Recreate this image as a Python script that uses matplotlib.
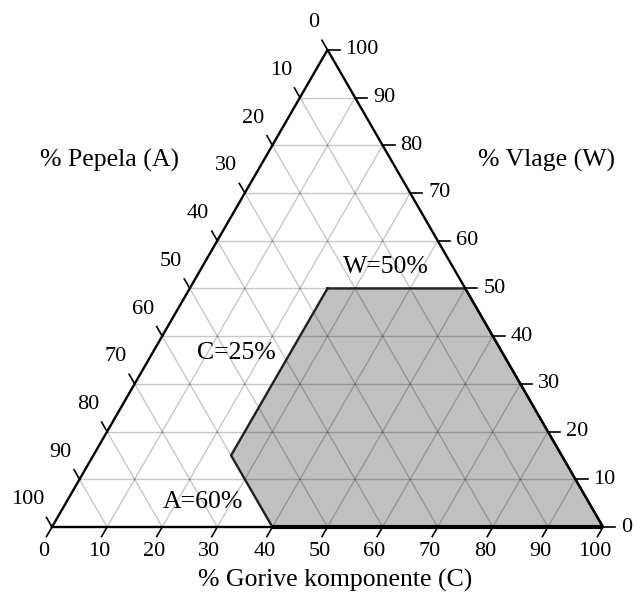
import numpy as np
import matplotlib
matplotlib.use("Agg")
import matplotlib.pyplot as plt
from matplotlib.patches import Polygon

plt.rcParams['font.family'] = ['Liberation Serif', 'DejaVu Serif']

# ternary axis values (percent)
ticks = [0, 10, 20, 30, 40, 50, 60, 70, 80, 90, 100]
grid_vals = [10, 20, 30, 40, 50, 60, 70, 80, 90]

# region limits
w_max = 50   # W <= 50 %
c_min = 25   # C >= 25 %
a_max = 60   # A <= 60 %

title_c = "% Gorive komponente (C)"
title_a = "% Pepela (A)"
title_w = "% Vlage (W)"

S3 = np.sqrt(3) / 2


def tern(c, w):
    # C along the bottom, W up the right side, A = 100 - C - W
    return (c + w / 2.0) / 100.0, w * S3 / 100.0


fig = plt.figure(figsize=(6.34, 5.94), dpi=100)
ax = fig.add_axes([0, 0, 1, 1])
# triangle side = 551 px, bottom-left corner at (52, 527) px
side = 551.0
ax.set_xlim(-52 / side, (634 - 52) / side)
ax.set_ylim(-(594 - 527) / side, 527 / side)
ax.axis('off')

# shaded region: W <= 50, C >= 25, A <= 60
region = [
    (c_min, w_max),
    (100 - w_max, w_max),
    (100, 0),
    (100 - a_max, 0),
    (c_min, 100 - a_max - c_min),
]
pts = [tern(c, w) for c, w in region]
ax.add_patch(Polygon(pts, closed=True, facecolor='#c0c0c0', edgecolor='none', zorder=1))

# grid lines
gkw = dict(color='black', alpha=0.22, lw=1.0, zorder=2)
for v in grid_vals:
    # constant W
    x, y = zip(tern(0, v), tern(100 - v, v))
    ax.plot(x, y, **gkw)
    # constant C
    x, y = zip(tern(v, 0), tern(v, 100 - v))
    ax.plot(x, y, **gkw)
    # constant A
    x, y = zip(tern(100 - v, 0), tern(0, 100 - v))
    ax.plot(x, y, **gkw)

# region outline
xs, ys = zip(*(pts + [pts[0]]))
ax.plot(xs, ys, color='#202020', lw=1.7, zorder=3)
x, y = zip(tern(100 - a_max, 0), tern(100, 0))
ax.plot(x, y, color='black', lw=3.0, zorder=4, solid_capstyle='butt')

# triangle frame
tri = [tern(0, 0), tern(100, 0), tern(0, 100), tern(0, 0)]
x, y = zip(*tri)
ax.plot(x, y, color='black', lw=1.7, zorder=4)

# ticks and tick labels
tl = 2.0
fs_tick = 16
for v in ticks:
    # bottom axis (C): ticks follow constant-C lines downwards
    x0, y0 = tern(v, 0)
    ax.plot([x0, x0 - tl / 200], [y0, y0 - tl * S3 / 100], color='black', lw=1.2, zorder=4)
    ax.text(x0 - 8 / side, y0 - 25 / side, str(v), ha='center', va='center', fontsize=fs_tick)

    # right axis (W): horizontal ticks
    x0, y0 = tern(100 - v, v)
    ax.plot([x0, x0 + 2.2 / 100], [y0, y0], color='black', lw=1.2, zorder=4)
    ax.text(x0 + 18 / side, y0, str(v), ha='left', va='center', fontsize=fs_tick)

    # left axis (A): ticks follow constant-A lines up-left
    x0, y0 = tern(0, 100 - v)
    ax.plot([x0, x0 - tl / 200], [y0, y0 + tl * S3 / 100], color='black', lw=1.2, zorder=4)
    ax.text(x0 - 8 / side, y0 + 27 / side, str(v), ha='right', va='center', fontsize=fs_tick)


def px(xp, yp):
    return (xp - 52) / side, (527 - yp) / side


fs_title = 18.5
ax.text(*px(335, 580), title_c, ha='center', va='center', fontsize=fs_title)
ax.text(*px(109, 160), title_a, ha='center', va='center', fontsize=fs_title)
ax.text(*px(547, 160), title_w, ha='center', va='center', fontsize=fs_title)

ax.text(*px(386, 267), "W=%d%%" % w_max, ha='center', va='center', fontsize=fs_title)
ax.text(*px(236, 353), "C=%d%%" % c_min, ha='center', va='center', fontsize=fs_title)
ax.text(*px(203, 502), "A=%d%%" % a_max, ha='center', va='center', fontsize=fs_title)

fig.savefig("out.png", dpi=100)
